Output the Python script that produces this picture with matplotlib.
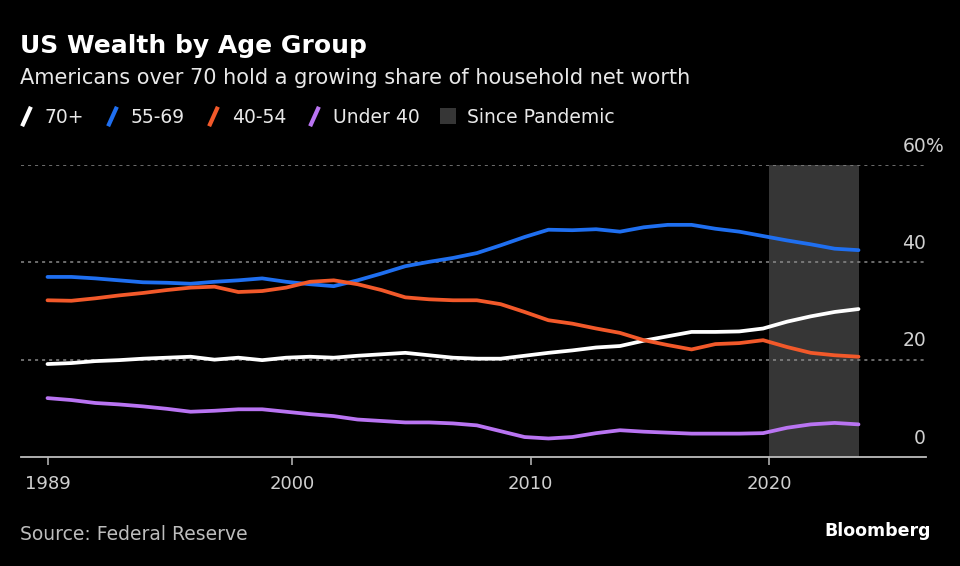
import matplotlib
matplotlib.use("Agg")
import matplotlib.pyplot as plt
from matplotlib.path import Path
from matplotlib.lines import Line2D

# share of US household net worth (%), read once a year at Q3
years = list(range(1989, 2024))
age_70_plus = [19.1, 19.3, 19.7, 19.9, 20.2, 20.4, 20.6, 20.0, 20.4, 19.9,
               20.4, 20.6, 20.4, 20.8, 21.1, 21.4, 20.9, 20.4, 20.2, 20.2,
               20.8, 21.4, 21.9, 22.5, 22.8, 23.9, 24.8, 25.7, 25.7, 25.8,
               26.4, 27.8, 28.9, 29.8, 30.4]
age_55_69 = [37.0, 37.0, 36.7, 36.3, 35.9, 35.8, 35.6, 36.0, 36.3, 36.7,
             36.0, 35.5, 35.1, 36.3, 37.7, 39.2, 40.1, 40.9, 41.9, 43.5,
             45.2, 46.7, 46.6, 46.8, 46.3, 47.2, 47.7, 47.7, 46.9, 46.3,
             45.4, 44.5, 43.7, 42.8, 42.5]
age_40_54 = [32.2, 32.1, 32.6, 33.2, 33.7, 34.3, 34.8, 35.0, 33.9, 34.1,
             34.8, 36.0, 36.3, 35.5, 34.3, 32.8, 32.4, 32.2, 32.2, 31.4,
             29.8, 28.1, 27.4, 26.4, 25.5, 24.0, 23.0, 22.1, 23.2, 23.4,
             24.0, 22.6, 21.4, 20.9, 20.6]
under_40 = [12.1, 11.7, 11.1, 10.8, 10.4, 9.9, 9.3, 9.5, 9.8, 9.8,
            9.3, 8.8, 8.4, 7.7, 7.4, 7.1, 7.1, 6.9, 6.5, 5.3,
            4.1, 3.8, 4.1, 4.9, 5.5, 5.2, 5.0, 4.8, 4.8, 4.8,
            4.9, 6.0, 6.7, 7.0, 6.7]

series_labels = ["70+", "55-69", "40-54", "Under 40"]
series_colors = ["#ffffff", "#1f6ff0", "#f2592a", "#b974f2"]
pandemic_start = 2020.0
pandemic_label = "Since Pandemic"
y_ticks = [0, 20, 40, 60]
x_ticks = [1989.75, 2000, 2010, 2020]
x_tick_labels = ["1989", "2000", "2010", "2020"]

BG = "#000000"
SHADE = "#363636"
TXT = "#d0d0d0"

plt.rcParams['font.family'] = ['DejaVu Sans']

fig = plt.figure(figsize=(9.6, 5.66), dpi=100, facecolor=BG)
ax = fig.add_axes([0.0219, 0.1926, 0.9427, 0.5159], facecolor=BG)

# quarter-end of Q3 -> year + 0.75
xs = [y + 0.75 for y in years]

ax.axvspan(pandemic_start, xs[-1], color=SHADE, zorder=0, lw=0)

for v in y_ticks[1:]:
    ax.axhline(v, color="#8a8a8a", lw=1.1, ls=(0, (2, 2.6)), zorder=1)

for vals, c in zip([age_70_plus, age_55_69, age_40_54, under_40], series_colors):
    ax.plot(xs, vals, color=c, lw=2.7, solid_capstyle='round',
            solid_joinstyle='round', zorder=3)

ax.set_xlim(1988.64, 2026.58)
ax.set_ylim(0, 60)

for s in ["top", "right", "left"]:
    ax.spines[s].set_visible(False)
ax.spines["bottom"].set_color("#bdbdbd")
ax.spines["bottom"].set_linewidth(1.3)
ax.set_yticks([])
ax.set_xticks(x_ticks)
ax.set_xticklabels(x_tick_labels)
ax.tick_params(axis="x", colors="#bdbdbd", labelcolor=TXT, length=6,
               width=1.1, pad=7, labelsize=13)

# y labels sit right-aligned above their grid lines
for v in y_ticks:
    ax.annotate(str(v), xy=(1.0, v), xycoords=("axes fraction", "data"),
                xytext=(0, 9.5), textcoords="offset points", ha="right",
                va="baseline", color=TXT, fontsize=13.5)
ax.annotate("%", xy=(1.0, y_ticks[-1]), xycoords=("axes fraction", "data"),
            xytext=(0, 9.5), textcoords="offset points", ha="left",
            va="baseline", color=TXT, fontsize=13.5)

fig.text(0.021, 0.906, "US Wealth by Age Group", color="white",
         fontsize=18, fontweight="bold", va="baseline")
fig.text(0.021, 0.852, "Americans over 70 hold a growing share of household net worth",
         color="#e8e8e8", fontsize=15, va="baseline")

# legend with slanted strokes
slash = Path([(-0.45, -1.0), (0.45, 1.0)], [Path.MOVETO, Path.LINETO])
handles = [Line2D([], [], lw=0, marker=slash, markersize=14, mew=3,
                  mec=c, color=c) for c in series_colors]
handles.append(Line2D([], [], lw=0, marker="s", markersize=11, mew=0,
                      color=SHADE))
leg = fig.legend(handles, series_labels + [pandemic_label], loc="center left",
                 bbox_to_anchor=(0.017, 0.793), ncol=5, frameon=False,
                 handlelength=1.0, handletextpad=0.5, columnspacing=1.0,
                 borderpad=0, borderaxespad=0, fontsize=13.5)
for t in leg.get_texts():
    t.set_color("#e8e8e8")

fig.text(0.021, 0.055, "Source: Federal Reserve", color="#bdbdbd",
         fontsize=13.5, va="center")
fig.text(0.970, 0.061, "Bloomberg", color="white", fontsize=12.5,
         fontweight="bold", va="center", ha="right")

fig.savefig("out.png", dpi=100, facecolor=BG)
